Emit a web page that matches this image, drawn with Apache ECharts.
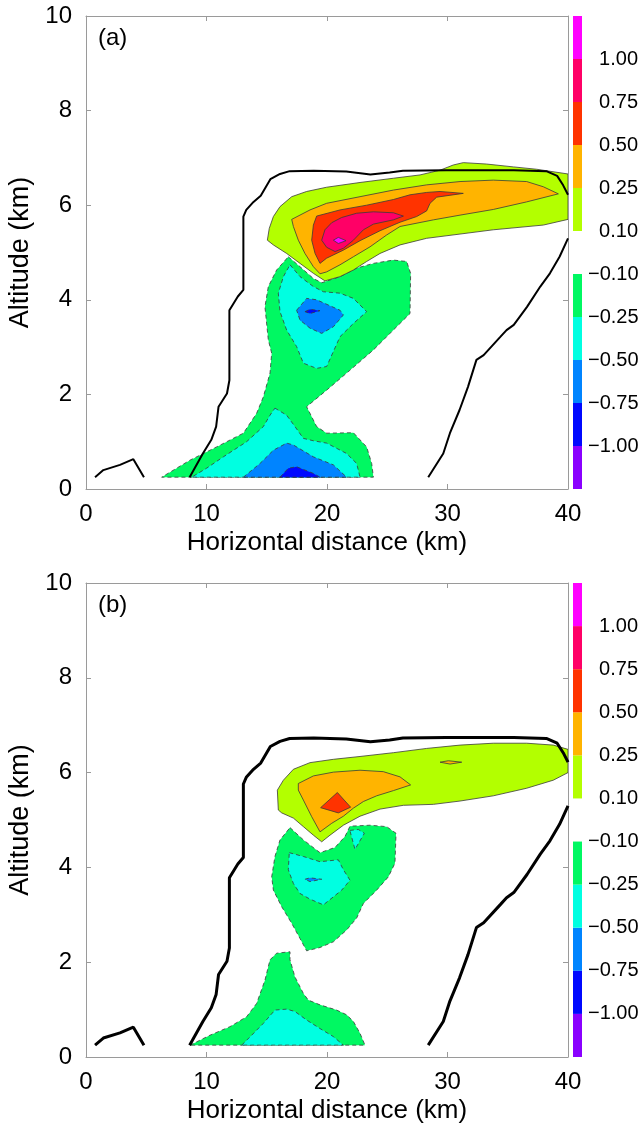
<!DOCTYPE html>
<html>
<head>
<meta charset="utf-8">
<script src="https://cdn.jsdelivr.net/npm/echarts@6/dist/echarts.min.js"></script>
<style>
  html, body { margin: 0; padding: 0; background: #fff; }
  #chart { width: 644px; height: 1136px; }
</style>
</head>
<body>
<div id="chart"></div>
<script>
// cloud boundary (black lines), same in both panels, [km, km]
const cloudWest = [[8.6,0.25],[9.7,0.75],[10.4,1.04],[10.8,1.32],[11.0,1.74],[11.7,2.02],[11.9,2.30],[11.9,3.78],[12.6,4.07],[13.06,4.21],[13.06,5.76],[13.3,5.9],[13.9,6.07],[14.5,6.2],[15.3,6.55],[16.1,6.66],[16.9,6.72],[18.9,6.73],[21.6,6.71],[23.6,6.65],[25.2,6.69],[26.3,6.73],[29.9,6.74],[35.5,6.74],[38.2,6.72],[39.1,6.62],[39.6,6.42],[40,6.22]];
const cloudEast = [[28.4,0.25],[29.65,0.75],[30.2,1.18],[31.0,1.67],[31.7,2.16],[32.4,2.73],[33.0,2.83],[34.4,3.22],[34.9,3.36],[35.5,3.47],[36.6,3.85],[37.7,4.28],[38.5,4.56],[39.3,4.91],[40,5.3]];
const cloudSmall = [[0.75,0.25],[1.44,0.40],[2.82,0.51],[3.93,0.63],[4.81,0.25]];

// panel (a) contour regions
const aPos010 = [[15.05,5.26],[15.21,5.51],[15.55,5.76],[16.10,5.97],[17.07,6.18],[18.31,6.29],[19.97,6.38],[22.74,6.48],[25.51,6.57],[27.72,6.64],[29.38,6.74],[30.48,6.85],[31.31,6.90],[33.25,6.87],[35.46,6.81],[37.40,6.76],[40,6.66],[40,5.7],[37.95,5.58],[33.80,5.48],[31.04,5.39],[28.27,5.30],[26.06,5.16],[24.40,4.98],[23.29,4.81],[22.19,4.63],[21.08,4.49],[19.83,4.40],[18.87,4.56],[17.76,4.77],[16.65,4.98],[15.55,5.16]];
const aPos025 = [[17.07,5.70],[18.59,5.90],[19.97,6.04],[22.74,6.18],[25.51,6.32],[28.27,6.43],[31.04,6.50],[33.80,6.53],[36.57,6.50],[37.95,6.39],[39.20,6.24],[36.57,6.07],[33.80,5.91],[31.04,5.79],[28.83,5.69],[26.06,5.55],[24.95,5.37],[23.57,5.12],[22.19,4.91],[21.08,4.74],[19.97,4.59],[19.42,4.55],[18.87,4.70],[18.17,4.98],[17.62,5.26],[17.21,5.55]];
const aPos050 = [[19.14,5.77],[21.08,5.90],[23.29,6.0],[25.51,6.12],[26.89,6.22],[28.27,6.27],[29.38,6.29],[31.31,6.25],[29.10,6.17],[28.55,6.04],[28.27,5.88],[27.44,5.76],[26.06,5.64],[24.40,5.46],[22.74,5.25],[21.36,5.05],[19.97,4.88],[19.42,4.77],[19.01,4.98],[18.73,5.26],[18.87,5.58]];
const aPos075 = [[19.56,5.26],[19.83,5.48],[20.39,5.63],[21.22,5.74],[22.46,5.83],[23.85,5.86],[25.51,5.84],[26.34,5.77],[25.51,5.69],[23.85,5.60],[23.02,5.48],[22.19,5.26],[21.36,5.09],[20.67,5.02],[19.97,5.11]];
const aPos100 = [[20.53,5.26],[20.94,5.32],[21.58,5.25],[20.94,5.19]];
const aNeg010 = [[16.79,4.91],[17.76,4.70],[18.87,4.45],[19.56,4.36],[21.08,4.49],[22.46,4.67],[23.85,4.77],[25.50,4.84],[26.61,4.81],[26.94,4.56],[26.89,3.71],[25.78,3.43],[23.85,2.94],[21.63,2.45],[19.97,2.09],[18.31,1.74],[19.14,1.32],[19.97,1.18],[22.19,1.19],[23.29,0.89],[23.71,0.54],[23.85,0.25],[6.28,0.25],[8.63,0.61],[10.84,0.89],[13.06,1.18],[14.16,1.60],[14.72,1.95],[15.27,2.45],[15.41,2.87],[15.13,3.15],[14.85,3.85],[15.13,4.28],[15.82,4.63]];
const aNeg025Up = [[16.93,4.74],[17.76,4.49],[18.87,4.28],[19.70,4.17],[21.08,4.14],[22.19,4.03],[23.29,3.75],[22.19,3.50],[21.08,3.22],[19.97,2.59],[19.14,2.55],[18.04,2.66],[17.48,3.01],[16.65,3.36],[16.10,3.75],[15.96,4.14],[16.38,4.49]];
const aNeg025Low = [[15.68,1.71],[16.65,1.56],[17.34,1.32],[18.04,1.07],[18.87,1.02],[19.97,0.97],[21.63,0.75],[22.46,0.54],[22.74,0.25],[8.77,0.25],[10.01,0.44],[11.40,0.68],[13.33,1.0],[14.72,1.32],[15.27,1.56]];
const aNeg050Up = [[17.48,3.78],[18.31,4.03],[19.14,4.0],[21.08,3.78],[21.36,3.68],[20.53,3.43],[19.56,3.29],[18.59,3.40],[17.76,3.57]];
const aNeg050Low = [[13.06,0.25],[14.44,0.54],[15.55,0.82],[16.65,0.97],[17.21,0.93],[18.87,0.68],[20.53,0.51],[21.63,0.25]];
const aNeg075Up = [[18.17,3.75],[18.59,3.80],[19.42,3.77],[18.59,3.71]];
const aNeg075Low = [[16.10,0.25],[16.79,0.44],[17.48,0.47],[18.87,0.33],[19.42,0.25]];

// panel (b) contour regions
const bPos010 = [[15.96,5.21],[15.88,5.63],[16.38,5.84],[17.21,6.07],[18.59,6.21],[20.53,6.28],[22.74,6.34],[25.51,6.42],[28.27,6.51],[31.04,6.58],[33.80,6.62],[36.57,6.62],[38.78,6.58],[40,6.49],[40,6.0],[38.78,5.84],[36.57,5.67],[33.80,5.51],[31.04,5.40],[28.83,5.33],[26.34,5.31],[24.40,5.23],[22.74,5.08],[21.36,4.89],[20.25,4.68],[19.56,4.54],[18.87,4.68],[18.04,4.86],[17.21,5.04],[16.24,5.15]];
const bPos025 = [[17.62,5.77],[18.87,5.93],[20.53,6.01],[22.74,6.05],[24.67,6.02],[26.06,5.91],[26.94,5.74],[25.51,5.62],[24.12,5.51],[23.02,5.39],[22.19,5.25],[21.36,5.08],[20.39,4.93],[19.42,4.75],[18.73,5.07],[18.04,5.42],[17.62,5.63]];
const bPos025Spot = [[29.38,6.22],[30.07,6.25],[31.18,6.22],[30.21,6.18]];
const bPos050 = [[20.86,5.58],[21.96,5.27],[20.94,5.15],[19.47,5.26]];
const bNeg010Up = [[16.93,4.84],[18.04,4.58],[19.42,4.31],[20.66,4.42],[21.49,4.65],[21.91,4.87],[23.57,4.89],[24.95,4.86],[25.73,4.72],[25.64,4.09],[25.09,3.80],[24.12,3.52],[23.02,3.24],[22.46,2.93],[21.63,2.68],[20.53,2.43],[19.42,2.31],[18.31,2.24],[17.76,2.50],[17.07,2.82],[16.24,3.17],[15.55,3.52],[15.41,3.80],[15.68,4.23],[16.10,4.58]];
const bNeg010Low = [[8.63,0.25],[10.29,0.46],[11.95,0.64],[13.33,0.85],[14.16,1.13],[14.85,1.62],[15.27,2.05],[15.82,2.19],[16.93,2.22],[16.93,2.05],[17.34,1.69],[18.04,1.34],[18.45,1.20],[19.42,1.10],[20.80,0.99],[21.63,0.89],[22.19,0.75],[22.74,0.50],[23.15,0.25]];
const bNeg025Up = [[16.87,4.31],[18.04,4.23],[19.42,4.12],[20.94,4.16],[21.36,3.95],[21.91,3.73],[21.22,3.52],[19.70,3.21],[18.59,3.33],[17.76,3.45],[17.21,3.66],[16.79,3.95]];
const bNeg025Spot = [[21.9,4.78],[22.60,4.80],[23.10,4.72],[22.32,4.38]];
const bNeg025Low = [[12.92,0.25],[13.75,0.46],[14.72,0.71],[15.68,0.99],[16.65,1.01],[17.34,0.96],[18.31,0.78],[19.42,0.60],[20.53,0.43],[21.36,0.25]];
const bNeg050 = [[18.17,3.75],[18.59,3.78],[19.56,3.75],[18.59,3.70]];

// colour bar: tick labels at band boundaries, bands named by their lower edge
const cbBoundaries = ['\u22121.00', '\u22120.75', '\u22120.50', '\u22120.25', '\u22120.10', '0.10', '0.25', '0.50', '0.75', '1.00'];
const cbBands = [-1.25, -1.00, -0.75, -0.50, -0.25, 0.10, 0.25, 0.50, 0.75, 1.00];

// contour level -> fill of the region beyond that level
const levelColor = {
  '-0.1': '#00f862', '-0.25': '#00ffe1', '-0.5': '#0084ff', '-0.75': '#0008ff', '-1': '#8a00ff',
  '0.1': '#b3ff00', '0.25': '#ffb400', '0.5': '#ff3300', '0.75': '#ff0066', '1': '#ff00ff'
};
const bandColor = {
  '-1.25': '#8a00ff', '-1': '#0008ff', '-0.75': '#0084ff', '-0.5': '#00ffe1', '-0.25': '#00f862',
  '0.1': '#b3ff00', '0.25': '#ffb400', '0.5': '#ff3300', '0.75': '#ff0066', '1': '#ff00ff'
};

const contoursA = [
  [-0.10, aNeg010], [-0.25, aNeg025Up], [-0.25, aNeg025Low], [-0.50, aNeg050Up], [-0.50, aNeg050Low],
  [-0.75, aNeg075Up], [-0.75, aNeg075Low],
  [0.10, aPos010], [0.25, aPos025], [0.50, aPos050], [0.75, aPos075], [1.00, aPos100]
];
const contoursB = [
  [-0.10, bNeg010Up], [-0.10, bNeg010Low], [-0.25, bNeg025Up], [-0.25, bNeg025Spot], [-0.25, bNeg025Low],
  [-0.50, bNeg050],
  [0.10, bPos010], [0.25, bPos025], [0.25, bPos025Spot], [0.50, bPos050]
];

const FONT = 'Liberation Sans, Arial, Helvetica, sans-serif';
const frame = '#9a9a9a';

const chart = echarts.init(document.getElementById('chart'), null, { renderer: 'canvas' });

function contourSeries(list, xi, yi) {
  return {
    type: 'custom', xAxisIndex: xi, yAxisIndex: yi, silent: true, clip: true, z: 2,
    data: list.map(c => [c[0]]),
    renderItem: function (params, api) {
      const c = list[params.dataIndex];
      const pts = c[1].map(p => api.coord(p));
      return {
        type: 'polygon',
        shape: { points: pts },
        style: {
          fill: levelColor[String(c[0])],
          stroke: '#3a3a3a',
          lineWidth: 0.8,
          lineDash: c[0] < 0 ? [4, 3] : null
        }
      };
    }
  };
}

function cloudSeries(pts, xi, yi, w) {
  return {
    type: 'line', xAxisIndex: xi, yAxisIndex: yi, data: pts, symbol: 'none', silent: true, z: 4,
    lineStyle: { color: '#000', width: w }
  };
}

function colorbarSeries(xi, yi) {
  return {
    type: 'custom', xAxisIndex: xi, yAxisIndex: yi, silent: true, z: 2,
    data: cbBands.map(v => [v]),
    renderItem: function (params, api) {
      const v = cbBands[params.dataIndex];
      const slot = v < 0 ? params.dataIndex : params.dataIndex + 1;
      const p0 = api.coord([0, slot + 1]);
      const p1 = api.coord([1, slot]);
      return {
        type: 'rect',
        shape: { x: p0[0], y: p0[1], width: p1[0] - p0[0], height: p1[1] - p0[1] },
        style: { fill: bandColor[String(v)] }
      };
    }
  };
}

function mainX(gi) {
  return [{
    gridIndex: gi, type: 'value', min: 0, max: 40, interval: 10, position: 'bottom',
    axisLine: { show: true, onZero: false, lineStyle: { color: frame, width: 1 } },
    axisTick: { inside: true, length: 5, lineStyle: { color: frame } },
    axisLabel: { fontSize: 24, color: '#000', margin: 13, fontFamily: FONT },
    splitLine: { show: false },
    name: 'Horizontal distance (km)', nameLocation: 'middle', nameGap: 41,
    nameTextStyle: { fontSize: 26, color: '#000', fontFamily: FONT }
  }, {
    gridIndex: gi, type: 'value', min: 0, max: 40, interval: 10, position: 'top',
    axisLine: { show: true, onZero: false, lineStyle: { color: frame, width: 1 } },
    axisTick: { inside: true, length: 5, lineStyle: { color: frame } },
    axisLabel: { show: false }, splitLine: { show: false }
  }];
}

function mainY(gi) {
  return [{
    gridIndex: gi, type: 'value', min: 0, max: 10, interval: 2, position: 'left',
    axisLine: { show: true, onZero: false, lineStyle: { color: frame, width: 1 } },
    axisTick: { inside: true, length: 5, lineStyle: { color: frame } },
    axisLabel: { fontSize: 24, color: '#000', margin: 14, fontFamily: FONT },
    splitLine: { show: false },
    name: 'Altitude (km)', nameLocation: 'middle', nameGap: 48,
    nameTextStyle: { fontSize: 27, color: '#000', fontFamily: FONT }
  }, {
    gridIndex: gi, type: 'value', min: 0, max: 10, interval: 2, position: 'right',
    axisLine: { show: true, onZero: false, lineStyle: { color: frame, width: 1 } },
    axisTick: { inside: true, length: 5, lineStyle: { color: frame } },
    axisLabel: { show: false }, splitLine: { show: false }
  }];
}

function cbX(gi) {
  return { gridIndex: gi, type: 'value', min: 0, max: 1, show: false };
}
function cbY(gi) {
  return {
    gridIndex: gi, type: 'value', min: 0, max: 11, interval: 1, position: 'right',
    axisLine: { show: false }, axisTick: { show: false }, splitLine: { show: false },
    axisLabel: {
      fontSize: 20, color: '#000', margin: 6, fontFamily: FONT, align: 'left',
      padding: [5, 0, 0, 0],
      formatter: function (v) {
        const s = cbBoundaries[v - 1];
        if (!s) return '';
        return s.charAt(0) === '\u2212' ? s : '\u2007' + s;
      }
    }
  };
}

const gridBase = { containLabel: false, outerBoundsMode: 'none', show: false };

const option = {
  animation: false,
  backgroundColor: '#fff',
  title: [
    { text: '(a)', left: 98, top: 26, padding: 0, textStyle: { fontSize: 24, fontWeight: 'normal', color: '#000', fontFamily: FONT } },
    { text: '(b)', left: 98, top: 593, padding: 0, textStyle: { fontSize: 24, fontWeight: 'normal', color: '#000', fontFamily: FONT } }
  ],
  grid: [
    Object.assign({ left: 86, top: 16, width: 482, height: 473 }, gridBase),
    Object.assign({ left: 573, top: 16, width: 9, height: 473 }, gridBase),
    Object.assign({ left: 86, top: 583, width: 482, height: 474 }, gridBase),
    Object.assign({ left: 573, top: 583, width: 9, height: 474 }, gridBase)
  ],
  xAxis: [].concat(mainX(0), [cbX(1)], mainX(2), [cbX(3)]),
  yAxis: [].concat(mainY(0), [cbY(1)], mainY(2), [cbY(3)]),
  series: [
    contourSeries(contoursA, 0, 0),
    cloudSeries(cloudWest, 0, 0, 2),
    cloudSeries(cloudEast, 0, 0, 2),
    cloudSeries(cloudSmall, 0, 0, 2),
    colorbarSeries(2, 2),
    contourSeries(contoursB, 3, 3),
    cloudSeries(cloudWest, 3, 3, 3),
    cloudSeries(cloudEast, 3, 3, 3),
    cloudSeries(cloudSmall, 3, 3, 3),
    colorbarSeries(5, 5)
  ]
};

chart.setOption(option);
</script>
</body>
</html>
